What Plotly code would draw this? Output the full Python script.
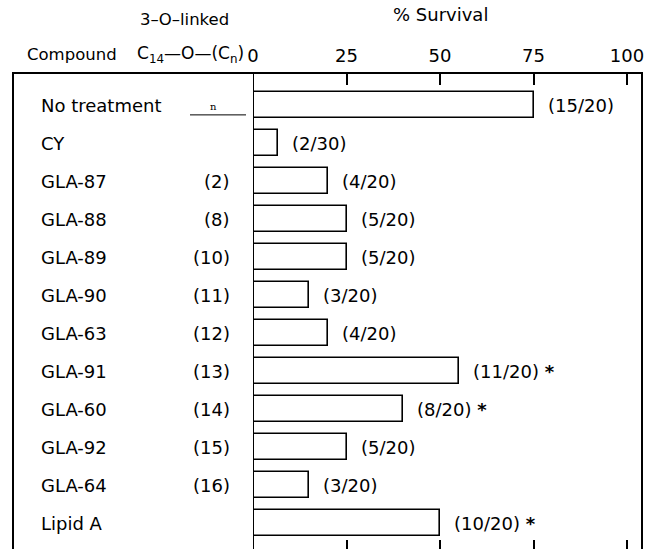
import plotly.graph_objects as go

compounds = ["No treatment", "CY", "GLA-87", "GLA-88", "GLA-89", "GLA-90",
             "GLA-63", "GLA-91", "GLA-60", "GLA-92", "GLA-64", "Lipid A"]
chain_len = ["", "", "(2)", "(8)", "(10)", "(11)", "(12)", "(13)", "(14)",
             "(15)", "(16)", ""]
survived = [15, 2, 4, 5, 5, 3, 4, 11, 8, 5, 3, 10]
total = [20, 30, 20, 20, 20, 20, 20, 20, 20, 20, 20, 20]
significant = [False, False, False, False, False, False, False, True, True,
               False, False, True]
tick_vals = [0, 25, 50, 75, 100]

survival = [100.0 * s / t for s, t in zip(survived, total)]
rows = list(range(len(compounds)))

W, H = 647, 549
ML, MR, MT, MB = 253, 5, 73, 0
PW = W - ML - MR
PH = H - MT - MB


def px(xpix):
    return (xpix - ML) / PW


def py(ypix):
    return (H - MB - ypix) / PH


FONT = "DejaVu Sans"
FS = 18
fig = go.Figure()
fig.add_trace(go.Bar(
    x=survival, y=rows, orientation="h", width=0.68,
    marker=dict(color="white", line=dict(color="black", width=1.6)),
    hoverinfo="skip", showlegend=False,
))
# invisible trace for the bottom tick axis
fig.add_trace(go.Scatter(x=[0], y=[0], xaxis="x2", mode="markers",
                         marker=dict(opacity=0), hoverinfo="skip",
                         showlegend=False))

ann = []
for r, name, cl, v, s, t, sig in zip(rows, compounds, chain_len, survival,
                                     survived, total, significant):
    ann.append(dict(x=px(39), xref="paper", y=r, yref="y", text=name,
                    showarrow=False, xanchor="left", yanchor="middle",
                    font=dict(family=FONT, size=FS, color="black")))
    if cl:
        ann.append(dict(x=px(232), xref="paper", y=r, yref="y", text=cl,
                        showarrow=False, xanchor="right", yanchor="middle",
                        font=dict(family=FONT, size=FS, color="black")))
    lab = f"({s}/{t})" + (" <b>*</b>" if sig else "")
    ann.append(dict(x=v, xref="x", y=r, yref="y", text=lab, showarrow=False,
                    xanchor="left", yanchor="middle", xshift=12,
                    font=dict(family=FONT, size=FS, color="black")))

# "n" marker for no-treatment row
ann.append(dict(x=px(213), xref="paper", y=rows[0], yref="y", yshift=-1,
                text="n", showarrow=False, xanchor="center", yanchor="middle",
                font=dict(family="DejaVu Serif", size=10, color="black")))

# headers
hdr = [
    (440, 15, "% Survival", 18),
    (184, 20, "3–O–linked", 16.5),
    (72, 55, "Compound", 16.5),
    (190, 55, "C<sub>14</sub>—O—(C<sub>n</sub>)", 17),
]
for hx, hy, txt, sz in hdr:
    ann.append(dict(x=px(hx), y=py(hy), xref="paper", yref="paper", text=txt,
                    showarrow=False, xanchor="center", yanchor="middle",
                    font=dict(family=FONT, size=sz, color="black")))

LW = 2
shapes = [
    dict(type="line", xref="paper", yref="paper", x0=px(12), x1=px(643),
         y0=1, y1=1, line=dict(color="black", width=LW)),
    dict(type="line", xref="paper", yref="paper", x0=px(13), x1=px(13),
         y0=0, y1=1, line=dict(color="black", width=LW)),
    dict(type="line", xref="x", yref="paper", x0=0, x1=0,
         y0=0, y1=1, line=dict(color="black", width=LW)),
    dict(type="line", xref="paper", yref="paper", x0=px(642), x1=px(642),
         y0=0, y1=1, line=dict(color="black", width=LW)),
    dict(type="line", xref="paper", yref="y", x0=px(190), x1=px(246),
         y0=rows[0] + 0.26, y1=rows[0] + 0.26,
         line=dict(color="black", width=1)),
]

xr = [0, (W - MR - ML) * 100.0 / (627 - ML)]
fig.update_layout(
    width=W, height=H, margin=dict(l=ML, r=MR, t=MT, b=MB, autoexpand=False),
    paper_bgcolor="white", plot_bgcolor="white",
    xaxis=dict(range=xr, side="top", tickvals=tick_vals, ticks="inside",
               ticklen=12, tickwidth=1.5, tickcolor="black",
               showgrid=False, zeroline=False, showline=False,
               automargin=False, ticklabelstandoff=6,
               tickfont=dict(family=FONT, size=FS, color="black")),
    xaxis2=dict(range=xr, overlaying="x", anchor="y", side="bottom",
                tickvals=tick_vals[1:], ticks="inside", ticklen=9,
                tickwidth=1.5, tickcolor="black", showticklabels=False,
                showgrid=False, zeroline=False, showline=False,
                automargin=False),
    yaxis=dict(range=[11.684, -0.842], showticklabels=False, showgrid=False,
               zeroline=False, showline=False, ticks="", automargin=False),
    annotations=ann, shapes=shapes, bargap=0,
)
fig.write_html(
    "out.html",
    config={"displayModeBar": False},
    post_script="document.body.style.margin='0';"
                "document.body.style.overflow='hidden';",
)
